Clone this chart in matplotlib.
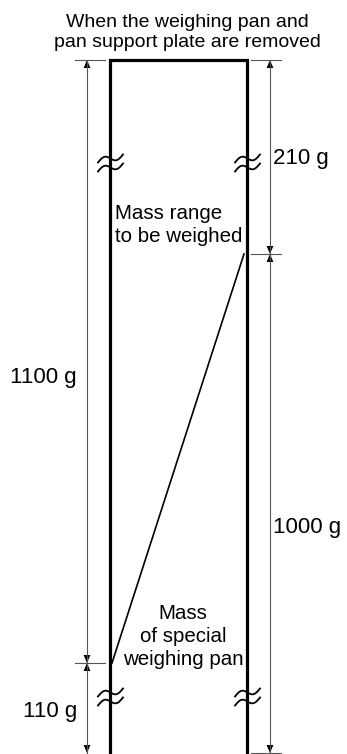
import numpy as np
import matplotlib
matplotlib.use("Agg")
import matplotlib.pyplot as plt
from matplotlib.patches import Polygon

plt.rcParams['font.family'] = ['Liberation Sans', 'DejaVu Sans']

# Mass levels (g) on the scale, bottom to top
level_g = [0, 110, 1000, 1210]
# Dimension segments (lower, upper) in grams
left_segments = [(110, 1210), (0, 110)]
right_segments = [(1000, 1210), (0, 1000)]
pan_mass = 110
range_top = 1000

title_lines = ["When the weighing pan and", "pan support plate are removed"]
range_label = ["Mass range", "to be weighed"]
pan_label = ["Mass", "of special", "weighing pan"]

# drawing layout (pixels, y down) -- the sketch is not to scale
level_px = [753, 663, 254, 60]
def ypos(g):
    return np.interp(g, level_g, level_px)

W, H = 347, 754
x_wall_l, x_wall_r = 110, 247
x_dim_l, x_dim_r = 87, 270
ext_l = (75, 105)
ext_r = (251, 281)
label_y_left = [383, 717]    # baselines
label_y_right = [164, 533]
dim_grey = '#555555'

fig = plt.figure(figsize=(W / 100, H / 100), dpi=100)
ax = fig.add_axes([0, 0, 1, 1])
ax.set_xlim(0, W)
ax.set_ylim(H, 0)
ax.axis('off')

# container outline (open at the bottom)
top = ypos(level_g[-1])
ax.plot([x_wall_l, x_wall_l, x_wall_r, x_wall_r], [H + 5, top, top, H + 5],
        color='black', lw=2.3, solid_joinstyle='miter', solid_capstyle='projecting')

# diagonal: pan mass on left wall to range top on right wall
ax.plot([x_wall_l + 2, x_wall_r - 3], [ypos(pan_mass), ypos(range_top)],
        color='black', lw=1.2)

def arrow_head(x, y, direction):
    # direction -1: points up, +1: points down; tip at (x, y)
    L, w = 8, 3.4
    tri = [(x, y), (x - w, y - direction * L), (x + w, y - direction * L)]
    ax.add_patch(Polygon(tri, closed=True, color='black', lw=0))

def dimension(x, ext, segments, label_y, side):
    for (lo, hi), ly in zip(segments, label_y):
        y_lo, y_hi = ypos(lo), ypos(hi)
        ax.plot([x, x], [y_hi, y_lo], color=dim_grey, lw=0.8)
        arrow_head(x, y_hi, -1)
        arrow_head(x, y_lo, 1)
        label = f"{hi - lo} g"
        if side == 'left':
            ax.text(x - 10, ly, label, ha='right', va='baseline', fontsize=16)
        else:
            ax.text(x + 3, ly, label, ha='left', va='baseline', fontsize=16)
    for g in level_g:
        y = ypos(g)
        if side == 'left' and g == 0:
            continue
        if side == 'left' and g == range_top:
            continue
        if side == 'right' and g == pan_mass:
            continue
        ax.plot(ext, [y, y], color=dim_grey, lw=0.8)

dimension(x_dim_l, ext_l, left_segments, label_y_left, 'left')
dimension(x_dim_r, ext_r, right_segments, label_y_right, 'right')

# break marks on both walls
t = np.linspace(0, 1, 60)
for cy in [163, 697]:
    for cx in [x_wall_l, x_wall_r]:
        for off in [-4.5, 4.5]:
            xs = cx - 12 + 25 * t
            ys = cy + off - 3.6 * np.sin(2 * np.pi * t) - 8 * (t - 0.5)
            ax.plot(xs, ys, color='black', lw=1.3)

# texts
for txt, yb in zip(title_lines, [27, 47]):
    ax.text(187, yb, txt, ha='center', va='baseline', fontsize=14)
for txt, yb in zip(range_label, [219, 242]):
    ax.text(115, yb, txt, ha='left', va='baseline', fontsize=14.8)
for txt, yb in zip(pan_label, [619, 642, 665]):
    ax.text(183, yb, txt, ha='center', va='baseline', fontsize=14.8)

fig.savefig('out.png', dpi=100)
